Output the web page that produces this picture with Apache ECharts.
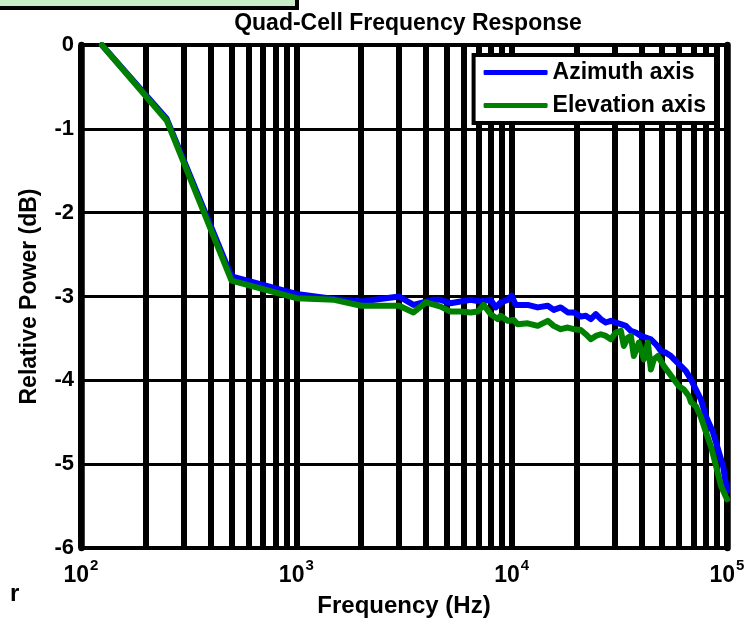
<!DOCTYPE html>
<html>
<head>
<meta charset="utf-8">
<script src="https://cdn.jsdelivr.net/npm/echarts@6/dist/echarts.min.js"></script>
<style>html,body{margin:0;padding:0;background:#fff;}#chart{width:750px;height:619px;}</style>
</head>
<body>
<div id="chart"></div>
<script>
// ---- data ----
var chartTitle = 'Quad-Cell Frequency Response';
var xAxisName = 'Frequency (Hz)';
var yAxisName = 'Relative Power (dB)';
var seriesNames = ['Azimuth axis', 'Elevation axis'];

var azimuthFreq = [125, 250, 500, 1000, 1500, 2000, 3000, 3500, 4300, 4680, 5200, 5790, 6450, 7170, 7990,
  8430, 8890, 9580, 10000, 10440, 11870, 13210, 14710, 15680, 16900, 18220, 19430, 20940, 22090, 23300,
  24590, 25940, 27370, 28870, 30460, 32140, 33900, 35770, 37730, 39810, 42000, 44310, 46760, 49320, 52040,
  54890, 57910, 61100, 64460, 68010, 71740, 75690, 79860, 86070, 95810, 100000];
var azimuthDb = [0, -0.88, -2.76, -2.97, -3.03, -3.06, -3.0, -3.1, -3.04, -3.04, -3.08, -3.06, -3.04, -3.06, -3.04,
  -3.13, -3.07, -3.04, -2.99, -3.1, -3.1, -3.13, -3.11, -3.16, -3.13, -3.19, -3.19, -3.24, -3.23, -3.27,
  -3.21, -3.27, -3.31, -3.29, -3.31, -3.33, -3.35, -3.41, -3.43, -3.47, -3.49, -3.51, -3.57, -3.65, -3.67,
  -3.71, -3.77, -3.83, -3.89, -3.99, -4.11, -4.23, -4.43, -4.62, -5.02, -5.32];

var elevationFreq = [125, 250, 500, 1000, 1500, 2000, 3000, 3500, 4000, 4680, 5200, 5790, 6450, 6950, 7410,
  7990, 8610, 8890, 9580, 10230, 10660, 11870, 13210, 14710, 15680, 16900, 18220, 19430, 20940, 22090,
  23300, 24590, 25940, 27370, 28870, 30460, 32140, 33180, 34640, 35770, 36930, 38960, 41110, 42910, 44310,
  45750, 47770, 49320, 50930, 53730, 56680, 59800, 63100, 66570, 68010, 71740, 75690, 79860, 84250, 88880,
  93800, 100000];
var elevationDb = [0, -0.9, -2.81, -3.02, -3.04, -3.11, -3.11, -3.19, -3.07, -3.12, -3.18, -3.18, -3.19, -3.18, -3.1,
  -3.21, -3.27, -3.23, -3.29, -3.28, -3.33, -3.32, -3.35, -3.29, -3.35, -3.39, -3.37, -3.39, -3.4, -3.45,
  -3.51, -3.47, -3.45, -3.47, -3.51, -3.43, -3.41, -3.59, -3.49, -3.47, -3.71, -3.55, -3.75, -3.55, -3.87,
  -3.75, -3.71, -3.77, -3.83, -3.91, -3.99, -4.07, -4.11, -4.19, -4.26, -4.31, -4.44, -4.62, -4.79, -5.02,
  -5.26, -5.42];

// minor (2..9 per decade) vertical grid positions of the log axis
var minorGridFreqs = [200, 300, 400, 500, 600, 700, 800, 900,
  2000, 3000, 4000, 5000, 6000, 7000, 8000, 9000,
  20000, 30000, 40000, 50000, 60000, 70000, 80000, 90000];

// ---- chart ----
var FONT = '"Liberation Sans", Arial, Helvetica, sans-serif';
function zip(a, b) { return a.map(function (v, i) { return [v, b[i]]; }); }

var chart = echarts.init(document.getElementById('chart'), null, { renderer: 'canvas' });
var option = {
  backgroundColor: '#fff',
  animation: false,
  title: {
    text: chartTitle,
    left: 403,
    textAlign: 'center',
    top: 7,
    textStyle: { fontFamily: FONT, fontWeight: 'bold', fontSize: 23, color: '#000' }
  },
  legend: {
    orient: 'vertical',
    right: 34,
    top: 55,
    z: 20,
    backgroundColor: '#fff',
    borderColor: '#000',
    borderWidth: 4,
    borderRadius: 0,
    padding: [6, 10, 6, 10],
    itemGap: 10,
    itemWidth: 64,
    itemHeight: 5,
    icon: 'roundRect',
    textStyle: { fontFamily: FONT, fontWeight: 'bold', fontSize: 23, color: '#000', lineHeight: 22 },
    data: seriesNames
  },
  grid: { left: 81, right: 23, top: 45, bottom: 71, containLabel: false, outerBoundsMode: 'none' },
  xAxis: [{
    type: 'log',
    logBase: 10,
    min: 100,
    max: 100000,
    name: xAxisName,
    nameLocation: 'middle',
    nameGap: 46,
    nameTextStyle: { fontFamily: FONT, fontWeight: 'bold', fontSize: 24, color: '#000' },
    axisLine: { show: true, onZero: false, lineStyle: { color: '#000', width: 4 } },
    axisTick: { show: false },
    axisLabel: {
      margin: 17,
      formatter: function (v) {
        return '{b|10}{s|' + Math.round(Math.log10(v)) + '}';
      },
      rich: {
        b: { fontFamily: FONT, fontWeight: 'bold', fontSize: 23, color: '#000', lineHeight: 22, verticalAlign: 'bottom' },
        s: { fontFamily: FONT, fontWeight: 'bold', fontSize: 15, color: '#000', lineHeight: 15, padding: [0, 0, 14, 1], verticalAlign: 'bottom' }
      }
    },
    splitLine: { show: true, lineStyle: { color: '#000', width: 6 } }
  }, {
    type: 'log',
    logBase: 10,
    min: 100,
    max: 100000,
    position: 'top',
    axisLine: { show: true, onZero: false, lineStyle: { color: '#000', width: 4 } },
    axisTick: { show: false },
    axisLabel: { show: false },
    splitLine: { show: false }
  }],
  yAxis: [{
    type: 'value',
    min: -6,
    max: 0,
    interval: 1,
    name: yAxisName,
    nameLocation: 'middle',
    nameGap: 40,
    nameRotate: 90,
    nameTextStyle: { fontFamily: FONT, fontWeight: 'bold', fontSize: 23, color: '#000' },
    axisLine: { show: true, onZero: false, lineStyle: { color: '#000', width: 6.5 } },
    axisTick: { show: false },
    axisLabel: { margin: 7, fontFamily: FONT, fontWeight: 'bold', fontSize: 22, color: '#000' },
    splitLine: { show: true, lineStyle: { color: '#000', width: 3 } }
  }, {
    type: 'value',
    min: -6,
    max: 0,
    interval: 1,
    position: 'right',
    axisLine: { show: true, onZero: false, lineStyle: { color: '#000', width: 6.5 } },
    axisTick: { show: false },
    axisLabel: { show: false },
    splitLine: { show: false }
  }],
  series: [{
    type: 'line',
    name: '_grid',
    data: [],
    silent: true,
    markLine: {
      silent: true,
      symbol: ['none', 'none'],
      label: { show: false },
      lineStyle: { color: '#000', width: 6, type: 'solid' },
      emphasis: { disabled: true },
      data: minorGridFreqs.map(function (f) { return { xAxis: f }; })
    }
  }, {
    type: 'line',
    name: seriesNames[0],
    z: 10,
    data: zip(azimuthFreq, azimuthDb),
    showSymbol: false,
    symbol: 'none',
    color: '#0000ff',
    lineStyle: { color: '#0000ff', width: 6, cap: 'round', join: 'round' }
  }, {
    type: 'line',
    name: seriesNames[1],
    z: 11,
    data: zip(elevationFreq, elevationDb),
    showSymbol: false,
    symbol: 'none',
    color: '#008000',
    lineStyle: { color: '#008000', width: 6, cap: 'round', join: 'round' }
  }],
  graphic: [{
    type: 'rect',
    left: -10,
    top: -20,
    shape: { width: 305, height: 26 },
    style: { fill: '#c8eec8', stroke: '#000', lineWidth: 4 }
  }, {
    type: 'text',
    left: 10,
    top: 582,
    style: { text: 'r', fontFamily: FONT, fontWeight: 'bold', fontSize: 24, fill: '#000' }
  }]
};
chart.setOption(option);
</script>
</body>
</html>
